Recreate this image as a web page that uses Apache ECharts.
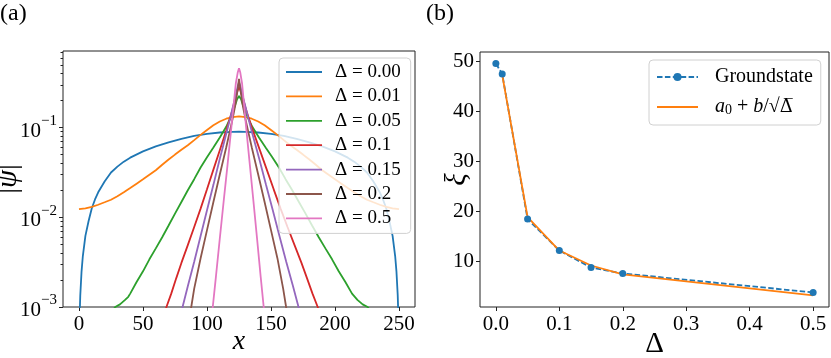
<!DOCTYPE html>
<html>
<head>
<meta charset="utf-8">
<script src="https://cdn.jsdelivr.net/npm/echarts@6/dist/echarts.min.js"></script>
<style>
  html, body { margin: 0; padding: 0; background: #fff; }
  #chart { width: 831px; height: 358px; }
</style>
</head>
<body>
<div id="chart"></div>
<script>
// (a) |psi| profiles, [x, |psi|]
const psi000 = [[0,0.0002],[0.5,0.0008],[1,0.00135],[2,0.0025],[3,0.0037],[5,0.0062],[7.5,0.0091],[10,0.0126],[12.5,0.0158],[15,0.019],[20,0.0251],[25,0.0316],[30,0.0367],[35,0.0417],[40,0.0462],[50,0.0543],[60,0.0617],[70,0.0684],[80,0.075],[90,0.0807],[100,0.0851],[110,0.0881],[120,0.0897],[125,0.09],
  [130,0.0897],[140,0.0881],[150,0.0851],[160,0.0807],[170,0.075],[180,0.0684],[190,0.0617],[200,0.0543],[210,0.0462],[215,0.0417],[220,0.0367],[225,0.0316],[230,0.0251],[235,0.019],[237.5,0.0158],[240,0.0126],[242.5,0.0091],[245,0.0062],[247,0.0037],[248,0.0025],[249,0.00135],[249.5,0.0008],[250,0.0002]];
const psi001 = [[0,0.0123],[5,0.0126],[10,0.0131],[15,0.0138],[20,0.0147],[25,0.0157],[30,0.0172],[35,0.019],[40,0.0212],[45,0.0237],[50,0.0265],[55,0.0298],[60,0.0335],[65,0.0385],[70,0.044],[75,0.05],[80,0.0565],[85,0.0635],[90,0.0725],[95,0.083],[100,0.094],[105,0.106],[110,0.117],[115,0.1255],[120,0.131],[125,0.133],
  [130,0.131],[135,0.1255],[140,0.117],[145,0.106],[150,0.094],[155,0.083],[160,0.0725],[165,0.0635],[170,0.0565],[175,0.05],[180,0.044],[185,0.0385],[190,0.0335],[195,0.0298],[200,0.0265],[205,0.0237],[210,0.0212],[215,0.019],[220,0.0172],[225,0.0157],[230,0.0147],[235,0.0138],[240,0.0131],[245,0.0126],[250,0.0123]];
const psi005 = [[20,0.0007],[28.3,0.001],[32,0.00107],[36,0.0012],[38.5,0.0013],[40,0.00141],[45,0.0019],[50,0.0025],[55,0.0034],[60,0.0045],[65,0.006],[70,0.0081],[75,0.011],[80,0.0148],[85,0.02],[90,0.0266],[95,0.0359],[100,0.0468],[105,0.06],[110,0.0776],[115,0.102],[118,0.126],[120,0.148],[122,0.178],[123.5,0.207],[125,0.225],
  [126.6,0.207],[128.1,0.178],[130.2,0.148],[132.3,0.126],[135.4,0.102],[140.6,0.0776],[145.8,0.06],[151,0.0468],[156.2,0.0359],[161.4,0.0266],[166.6,0.02],[171.8,0.0148],[177,0.011],[182.1,0.0081],[187.3,0.006],[192.5,0.0045],[197.7,0.0034],[202.9,0.0025],[208.1,0.0019],[213.3,0.00141],[217.5,0.0012],[221.6,0.00107],[225.5,0.001],[234,0.0007]];
const psi010 = [[65,0.0007],[68.3,0.001],[72,0.0014],[76,0.0021],[80,0.0031],[85,0.0049],[90,0.0078],[95,0.0125],[100,0.0205],[105,0.034],[110,0.056],[115,0.093],[118,0.128],[120,0.16],[122,0.205],[124,0.26],[125,0.285],
  [126.1,0.26],[128.3,0.205],[130.4,0.16],[132.6,0.128],[135.8,0.093],[141.3,0.056],[146.7,0.034],[152.1,0.0205],[157.5,0.0125],[162.9,0.0078],[168.4,0.0049],[173.8,0.0031],[178.1,0.0021],[182.5,0.0014],[186.5,0.001],[190,0.0007]];
const psi015 = [[78,0.0007],[80.9,0.001],[85,0.0017],[90,0.0032],[95,0.0062],[100,0.012],[105,0.023],[110,0.045],[115,0.085],[118,0.125],[120,0.165],[122,0.215],[124,0.29],[125,0.32],
  [126.1,0.29],[128.2,0.215],[130.3,0.165],[132.4,0.125],[135.5,0.085],[140.8,0.045],[146.1,0.023],[151.4,0.012],[156.6,0.0062],[161.9,0.0032],[167.2,0.0017],[171.5,0.001],[174.6,0.0007]];
const psi020 = [[85.5,0.0007],[87.7,0.001],[90,0.0016],[95,0.0035],[100,0.0072],[105,0.0148],[110,0.03],[115,0.06],[118,0.093],[120,0.125],[122,0.175],[124,0.27],[125,0.35],
  [126,0.27],[128,0.175],[130,0.125],[132,0.093],[135,0.06],[140,0.03],[145,0.0148],[150,0.0072],[155,0.0035],[159.5,0.0016],[161.8,0.001],[164,0.0007]];
const psi050 = [[103.5,0.0007],[104.5,0.001],[107,0.0022],[110,0.0058],[113,0.015],[116,0.038],[119,0.1],[121,0.19],[122.5,0.31],[124,0.41],[125,0.46],
  [126,0.41],[127.4,0.31],[128.8,0.19],[130.6,0.1],[133.5,0.038],[136.3,0.015],[139.1,0.0058],[141.9,0.0022],[144.3,0.001],[145.2,0.0007]];

const profiles = [psi000, psi001, psi005, psi010, psi015, psi020, psi050];
const profileNames = ['Δ = 0.00', 'Δ = 0.01', 'Δ = 0.05', 'Δ = 0.1', 'Δ = 0.15', 'Δ = 0.2', 'Δ = 0.5'];
const colors = ['#1f77b4', '#ff7f0e', '#2ca02c', '#d62728', '#9467bd', '#8c564b', '#e377c2'];

const xTicksA = [0, 50, 100, 150, 200, 250];
const yTicksA = [0.001, 0.01, 0.1];
const yMinorA = [0.002,0.003,0.004,0.005,0.006,0.007,0.008,0.009,0.02,0.03,0.04,0.05,0.06,0.07,0.08,0.09,0.2,0.3,0.4,0.5,0.6,0.7];

// (b) correlation length
const deltas = [0, 0.01, 0.05, 0.1, 0.15, 0.2, 0.5];
const xiGround = [49.6, 47.5, 18.4, 12.1, 8.7, 7.5, 3.7];
const fitDeltas = [0.01, 0.05, 0.1, 0.15, 0.2, 0.5];
const xiFit = [47.3, 18.8, 12.1, 9.1, 7.3, 3.1];

const xTicksB = [0, 0.1, 0.2, 0.3, 0.4, 0.5];
const yTicksB = [10, 20, 30, 40, 50];

const FONT = '"Liberation Serif", "DejaVu Serif", serif';
const chart = echarts.init(document.getElementById('chart'));

const tickLabel = { fontFamily: FONT, fontSize: 21, color: '#000' };
const lineIcon = w => 'path://M0,0H' + w + 'V1.8H0Z';
const noLine = { show: false, onZero: false };

const series = profiles.map((d, i) => ({
  name: profileNames[i],
  type: 'line',
  xAxisIndex: 0,
  yAxisIndex: 0,
  data: d,
  symbol: 'none',
  lineStyle: { width: 1.8, color: colors[i] },
  itemStyle: { color: colors[i] }
}));

series.push({
  name: 'Groundstate',
  type: 'line',
  xAxisIndex: 1,
  yAxisIndex: 2,
  data: deltas.map((d, i) => [d, xiGround[i]]),
  symbol: 'circle',
  symbolSize: 7,
  lineStyle: { width: 1.8, color: '#1f77b4', type: [5.5, 2.4] },
  itemStyle: { color: '#1f77b4' }
});
series.push({
  name: 'fit',
  type: 'line',
  xAxisIndex: 1,
  yAxisIndex: 2,
  data: fitDeltas.map((d, i) => [d, xiFit[i]]),
  symbol: 'none',
  lineStyle: { width: 1.8, color: '#ff7f0e' },
  itemStyle: { color: '#ff7f0e' }
});

chart.setOption({
  animation: false,
  grid: [
    { left: 63, top: 51, width: 352, height: 256, show: true, borderColor: '#222', borderWidth: 1, outerBoundsMode: 'none' },
    { left: 480, top: 52, width: 349, height: 255, show: true, borderColor: '#222', borderWidth: 1, outerBoundsMode: 'none' }
  ],
  xAxis: [
    {
      gridIndex: 0, type: 'value', min: -12.5, max: 262.5, position: 'bottom',
      name: 'x', nameLocation: 'middle', nameGap: 21, nameMoveOverlap: false,
      nameTextStyle: { fontFamily: FONT, fontSize: 28, fontStyle: 'italic', color: '#000' },
      axisLine: noLine,
      axisTick: { show: true, inside: false, length: 4, customValues: xTicksA, lineStyle: { color: '#222' } },
      axisLabel: Object.assign({ margin: 7, customValues: xTicksA }, tickLabel),
      splitLine: { show: false }
    },
    {
      gridIndex: 1, type: 'value', min: -0.025, max: 0.525, position: 'bottom',
      name: 'Δ', nameLocation: 'middle', nameGap: 23, nameMoveOverlap: false,
      nameTextStyle: { fontFamily: FONT, fontSize: 29, color: '#000' },
      axisLine: noLine,
      axisTick: { show: true, inside: false, length: 4, customValues: xTicksB, lineStyle: { color: '#222' } },
      axisLabel: Object.assign({ margin: 7, customValues: xTicksB, formatter: v => v.toFixed(1) }, tickLabel),
      splitLine: { show: false }
    }
  ],
  yAxis: [
    {
      gridIndex: 0, type: 'log', logBase: 10, min: 0.001, max: 0.714, position: 'left',
      name: '{n||}{i|ψ}{n||}', nameLocation: 'middle', nameGap: 40, nameRotate: 90, nameMoveOverlap: false,
      nameTextStyle: {
        fontFamily: FONT, fontSize: 29, color: '#000',
        rich: { n: { fontFamily: FONT, fontSize: 29 }, i: { fontFamily: FONT, fontSize: 29, fontStyle: 'italic' } }
      },
      axisLine: noLine,
      axisTick: { show: true, inside: false, length: 4, customValues: yTicksA, lineStyle: { color: '#222' } },
      axisLabel: {
        margin: 6, customValues: yTicksA,
        formatter: v => '{b|10}{s|−' + Math.round(-Math.log10(v)) + '}',
        rich: {
          b: { fontFamily: FONT, fontSize: 21, color: '#000', verticalAlign: 'bottom', lineHeight: 28 },
          s: { fontFamily: FONT, fontSize: 15, color: '#000', verticalAlign: 'top', lineHeight: 15 }
        }
      },
      splitLine: { show: false }
    },
    {
      // minor ticks of the log axis
      gridIndex: 0, type: 'log', logBase: 10, min: 0.001, max: 0.714, position: 'left',
      axisLine: noLine,
      axisTick: { show: true, inside: false, length: 2.5, customValues: yMinorA, lineStyle: { color: '#222', width: 1 } },
      axisLabel: { show: false },
      splitLine: { show: false }
    },
    {
      gridIndex: 1, type: 'value', min: 0.78, max: 51.9, position: 'left',
      name: 'ξ', nameLocation: 'middle', nameGap: 8, nameRotate: 90, nameMoveOverlap: false,
      nameTextStyle: { fontFamily: FONT, fontSize: 29, fontStyle: 'italic', color: '#000' },
      axisLine: noLine,
      axisTick: { show: true, inside: false, length: 4, customValues: yTicksB, lineStyle: { color: '#222' } },
      axisLabel: Object.assign({ margin: 6, customValues: yTicksB }, tickLabel),
      splitLine: { show: false }
    }
  ],
  legend: [
    {
      data: profileNames, orient: 'vertical', left: 279, top: 58,
      itemWidth: 36, itemHeight: 12, itemGap: 4.4, icon: lineIcon(36),
      backgroundColor: 'rgba(255,255,255,0.8)', borderColor: '#d0d0d0', borderWidth: 1, borderRadius: 4,
      padding: [4, 10, 5, 7],
      textStyle: { fontFamily: FONT, fontSize: 19, color: '#000', lineHeight: 20, padding: [0, 0, 0, 8] },
      selectedMode: false
    },
    {
      data: ['Groundstate', { name: 'fit', icon: lineIcon(41) }], orient: 'vertical', left: 649, top: 60,
      itemWidth: 41, itemHeight: 10, itemGap: 10,
      backgroundColor: 'rgba(255,255,255,0.8)', borderColor: '#d0d0d0', borderWidth: 1, borderRadius: 4,
      padding: [7, 8, 8, 7],
      formatter: n => n === 'fit' ? '{i|a}{s|0}{t| + }{i|b}{t|/√}{o|Δ̅}' : '{t|' + n + '}',
      textStyle: {
        fontFamily: FONT, fontSize: 20, color: '#000', padding: [0, 0, 0, 12],
        rich: {
          t: { fontFamily: FONT, fontSize: 20, color: '#000' },
          i: { fontFamily: FONT, fontSize: 20, fontStyle: 'italic', color: '#000' },
          s: { fontFamily: FONT, fontSize: 14, color: '#000', verticalAlign: 'bottom' },
          o: { fontFamily: '"DejaVu Serif", serif', fontSize: 18, color: '#000' }
        }
      },
      selectedMode: false
    }
  ],
  graphic: [
    { type: 'text', left: 0, top: 2, style: { text: '(a)', font: '24px ' + FONT, fill: '#000' } },
    { type: 'text', left: 426, top: 2, style: { text: '(b)', font: '24px ' + FONT, fill: '#000' } }
  ],
  series: series
});
</script>
</body>
</html>
